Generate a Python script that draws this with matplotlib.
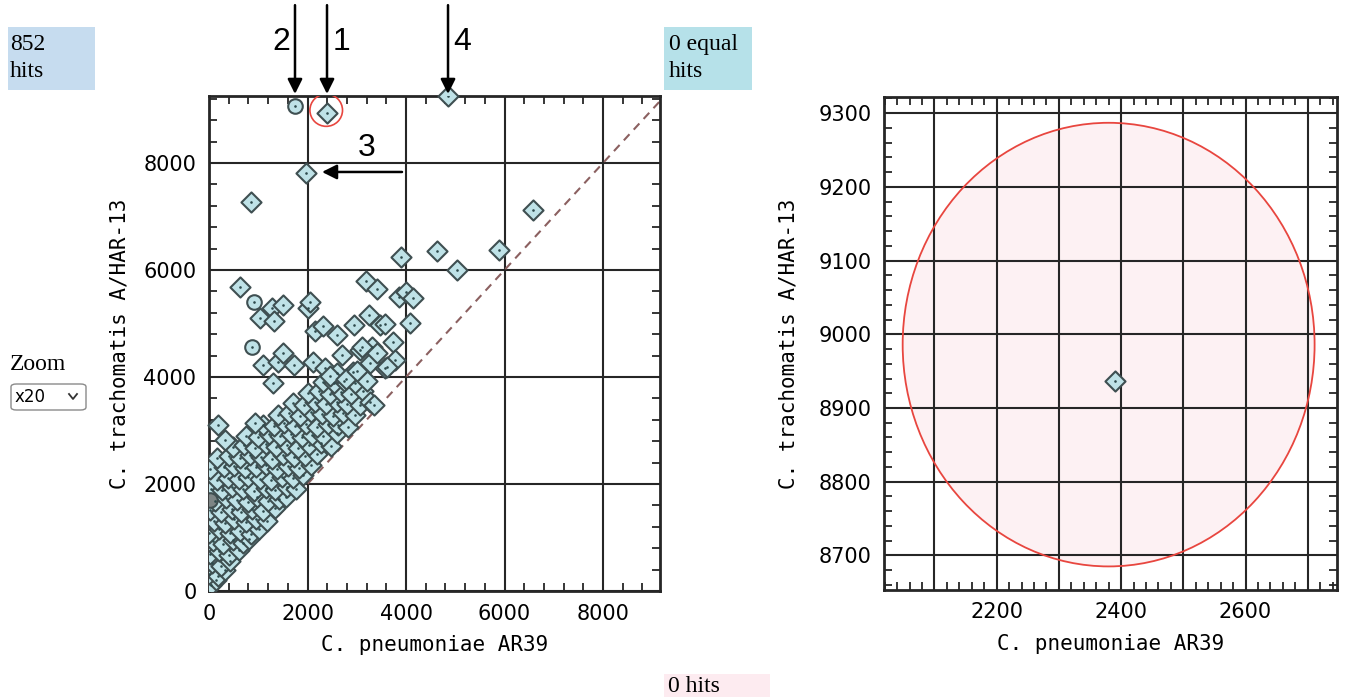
import numpy as np
import matplotlib.pyplot as plt
from matplotlib.patches import Ellipse, Rectangle, FancyBboxPatch
from matplotlib.ticker import MultipleLocator, FixedLocator, FixedFormatter

# sparse hits, left panel (C. pneumoniae AR39 vs C. trachomatis A/HAR-13)
hit_x = [2396, 1970, 4853, 853, 6579, 4629, 5888, 3898, 5036, 629,
         1279, 1503, 1036, 1320, 2010, 2051, 2152, 2315, 2599, 2944,
         3188, 3411, 3249, 3472, 3858, 4000, 4142, 4081, 3574, 3736,
         3066, 2701, 3310, 3777, 2112, 2355, 3269, 3574, 2924, 2599,
         3107, 3411, 3614, 1096, 1401, 1503, 1726, 1299, 3269, 3350,
         183, 325, 934, 2460, 2780, 3000]
hit_y = [8935, 7813, 9252, 7271, 7121, 6355, 6374, 6243, 6000, 5682,
         5290, 5346, 5103, 5047, 5290, 5402, 4860, 4953, 4785, 4972,
         5794, 5645, 5159, 4972, 5495, 5589, 5477, 5009, 4991, 4654,
         4505, 4411, 4561, 4318, 4280, 4168, 4262, 4168, 4093, 4075,
         4561, 4449, 4187, 4224, 4280, 4449, 4224, 3888, 3533, 3480,
         3103, 2822, 3140, 4010, 3960, 4120]

# hits drawn as circles
circ_x = [1746, 914, 873]
circ_y = [9065, 5402, 4561]

# dense cloud near the diagonal
cloud_x = [40, 150,
           10, 190, 330,
           60, 240, 430,
           20, 210, 400, 610,
           90, 290, 480, 700, 820,
           10, 200, 420, 630, 850, 1010,
           110, 320, 510, 760, 950, 1180,
           30, 240, 460, 650, 880, 1090, 1330,
           130, 340, 560, 790, 970, 1200, 1420, 1560,
           50, 270, 470, 690, 920, 1150, 1350, 1590, 1760,
           160, 380, 600, 800, 1040, 1260, 1480, 1700, 1910,
           20, 300, 510, 730, 950, 1150, 1390, 1610, 1830, 2080,
           170, 400, 620, 840, 1060, 1280, 1500, 1720, 1940, 2200,
           480, 710, 930, 1150, 1370, 1590, 1810, 2030, 2280, 2470,
           760, 1000, 1220, 1440, 1660, 1880, 2100, 2320, 2600,
           1090, 1310, 1530, 1750, 1970, 2190, 2410, 2610, 2830,
           1400, 1630, 1850, 2070, 2290, 2510, 2730, 2960,
           1710, 1930, 2150, 2370, 2590, 2810, 3060,
           2010, 2230, 2450, 2670, 2890, 3120,
           2310, 2530, 2750, 2970, 3200]
cloud_y = [120, 210,
           310, 280, 390,
           520, 470, 560,
           690, 740, 680, 760,
           930, 880, 950, 900, 980,
           1090, 1150, 1080, 1130, 1070, 1160,
           1310, 1270, 1340, 1290, 1350, 1300,
           1520, 1480, 1540, 1470, 1530, 1500, 1560,
           1680, 1740, 1710, 1670, 1750, 1690, 1720, 1760,
           1910, 1880, 1940, 1900, 1870, 1930, 1890, 1950, 1900,
           2080, 2120, 2090, 2140, 2100, 2070, 2130, 2110, 2160,
           2280, 2310, 2340, 2290, 2320, 2350, 2280, 2330, 2300, 2360,
           2480, 2520, 2490, 2550, 2510, 2470, 2540, 2500, 2530, 2560,
           2690, 2720, 2680, 2740, 2700, 2730, 2680, 2720, 2760, 2710,
           2900, 2870, 2930, 2890, 2940, 2880, 2920, 2900, 2950,
           3110, 3080, 3140, 3090, 3120, 3070, 3130, 3100, 3060,
           3290, 3320, 3280, 3340, 3300, 3270, 3330, 3290,
           3510, 3480, 3530, 3490, 3540, 3500, 3470,
           3700, 3730, 3690, 3720, 3680, 3740,
           3910, 3880, 3920, 3890, 3930]

# selected hit (zoomed view on the right)
sel_x = [2390]
sel_y = [8936]
sel_cx, sel_cy = 2380, 8986
sel_rx, sel_ry = 331, 301

fill = '#bfe2e7'
edge = '#3f4f51'
dark = '#262626'
msize = 105

fig = plt.figure(figsize=(13.5, 6.97), dpi=100)

def fx(px):
    return px / 1350.0

def fy(py):
    return 1 - py / 697.0

# ---------------- left panel ----------------
ax1 = fig.add_axes([fx(209), fy(591), fx(660) - fx(209), fy(96) - fy(591)])
ax1.set_xlim(0, 9157)
ax1.set_ylim(0, 9252)
ax1.plot([0, 9252], [0, 9252], ls=(0, (4, 3)), color='#8b6060', lw=1.5, zorder=2)
ax1.scatter(cloud_x, cloud_y, marker='D', s=msize, c=fill, edgecolors=edge, linewidths=1.5, zorder=3)
ax1.scatter(hit_x, hit_y, marker='D', s=msize, c=fill, edgecolors=edge, linewidths=1.5, zorder=3, clip_on=False)
ax1.scatter(circ_x, circ_y, marker='o', s=110, c=fill, edgecolors=edge, linewidths=1.5, zorder=3)
ax1.scatter([20], [1700], marker='o', s=110, c='#7d8585', edgecolors=edge, linewidths=1.5, zorder=3)
ax1.scatter(cloud_x + hit_x + circ_x, cloud_y + hit_y + circ_y, marker='.', s=3, c='#2e4a4c', zorder=4)
ax1.add_patch(Ellipse((sel_cx, sel_cy), 2 * sel_rx, 2 * sel_ry, fill=False, ec='#e8463f', lw=1.2, zorder=5))

ax1.xaxis.set_major_locator(MultipleLocator(2000))
ax1.yaxis.set_major_locator(MultipleLocator(2000))
ax1.xaxis.set_minor_locator(MultipleLocator(400))
ax1.yaxis.set_minor_locator(MultipleLocator(400))
ax1.set_xlabel('C. pneumoniae AR39', family='DejaVu Sans Mono', fontsize=15, labelpad=8)
ax1.set_ylabel('C. trachomatis A/HAR-13', family='DejaVu Sans Mono', fontsize=15, labelpad=10)

# arrows and labels
arrow = dict(arrowstyle='-|>', color='black', lw=1.8, mutation_scale=22, shrinkA=0, shrinkB=0)
for x in [1746, 2396, 4853]:
    ax1.annotate('', xy=(x, 9290), xytext=(x, 10950), arrowprops=arrow, annotation_clip=False)
ax1.annotate('', xy=(2294, 7832), xytext=(3919, 7832), arrowprops=arrow, annotation_clip=False)
for lab, x, y in [('2', 1462, 10262), ('1', 2700, 10262), ('4', 5137, 10262), ('3', 3208, 8280)]:
    ax1.text(x, y, lab, family='Liberation Sans', fontsize=23, ha='center', va='center')

# ---------------- right panel ----------------
ax2 = fig.add_axes([fx(884), fy(590), fx(1337) - fx(884), fy(97) - fy(590)])
ax2.set_xlim(2019, 2747)
ax2.set_ylim(8653, 9322)
ax2.add_patch(Ellipse((sel_cx, sel_cy), 2 * sel_rx, 2 * sel_ry, fc='#fdf1f3', ec='none', zorder=1))
ax2.add_patch(Ellipse((sel_cx, sel_cy), 2 * sel_rx, 2 * sel_ry, fill=False, ec='#e8463f', lw=1.3, zorder=3))
ax2.scatter(sel_x, sel_y, marker='D', s=msize, c=fill, edgecolors=edge, linewidths=1.5, zorder=4)
ax2.scatter(sel_x, sel_y, marker='.', s=3, c='#2e4a4c', zorder=5)

xt = [2100, 2200, 2300, 2400, 2500, 2600, 2700]
ax2.xaxis.set_major_locator(FixedLocator(xt))
ax2.xaxis.set_major_formatter(FixedFormatter(['', '2200', '', '2400', '', '2600', '']))
ax2.yaxis.set_major_locator(MultipleLocator(100))
ax2.xaxis.set_minor_locator(MultipleLocator(20))
ax2.yaxis.set_minor_locator(MultipleLocator(20))
ax2.set_xlabel('C. pneumoniae AR39', family='DejaVu Sans Mono', fontsize=15, labelpad=8)
ax2.set_ylabel('C. trachomatis A/HAR-13', family='DejaVu Sans Mono', fontsize=15, labelpad=14)

for ax in (ax1, ax2):
    ax.grid(True, which='major', color=dark, lw=1.5)
    ax.tick_params(which='both', direction='in', top=True, right=True, color=dark)
    ax.tick_params(which='major', length=0, labelsize=15, pad=9)
    ax.tick_params(which='minor', length=6, width=1.3)
    for lbl in ax.get_xticklabels() + ax.get_yticklabels():
        lbl.set_family('DejaVu Sans')
    for sp in ax.spines.values():
        sp.set_linewidth(2)
        sp.set_color(dark)

# ---------------- page furniture ----------------
fig.patches.append(Rectangle((fx(8), fy(90)), fx(95) - fx(8), fy(27) - fy(90),
                             transform=fig.transFigure, fc='#c6dcef', ec='none'))
fig.text(fx(10), fy(58), '852\nhits', family='Liberation Serif', fontsize=17,
         ha='left', va='center', linespacing=1.4)
fig.patches.append(Rectangle((fx(664), fy(90)), fx(752) - fx(664), fy(27) - fy(90),
                             transform=fig.transFigure, fc='#b6e1e9', ec='none'))
fig.text(fx(669), fy(58), '0 equal\nhits', family='Liberation Serif', fontsize=17,
         ha='left', va='center', linespacing=1.4)
fig.patches.append(Rectangle((fx(664), fy(697)), fx(770) - fx(664), fy(674) - fy(697),
                             transform=fig.transFigure, fc='#fdebf0', ec='none'))
fig.text(fx(668), fy(687), '0 hits', family='Liberation Serif', fontsize=17, ha='left', va='center')

fig.text(fx(10), fy(364), 'Zoom', family='Liberation Serif', fontsize=17, ha='left', va='center')
fig.patches.append(FancyBboxPatch((fx(11), fy(410)), fx(86) - fx(11), fy(384) - fy(410),
                                  boxstyle='round,pad=0,rounding_size=0.004',
                                  transform=fig.transFigure, fc='white', ec='#8a8a8a', lw=1))
fig.text(fx(15), fy(397), 'x20', family='DejaVu Sans', fontsize=12, ha='left', va='center')
fig.lines.append(plt.Line2D([fx(69), fx(73), fx(77)], [fy(394), fy(399), fy(394)],
                            transform=fig.transFigure, color='#333333', lw=1.3))

fig.savefig('out.png', dpi=100)
